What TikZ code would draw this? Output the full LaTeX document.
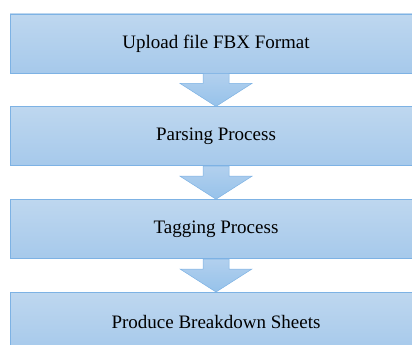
\documentclass[tikz,border=0pt]{standalone}
\usepackage{fontspec}
\setmainfont{Liberation Serif}
\usetikzlibrary{positioning,calc}

\definecolor{boxtop}{RGB}{190,215,239}
\definecolor{boxbot}{RGB}{166,201,235}
\definecolor{boxline}{RGB}{125,178,228}
\definecolor{arrtop}{RGB}{178,208,238}
\definecolor{arrbot}{RGB}{150,194,234}

\begin{document}
\begin{tikzpicture}[node distance=33pt,
    stage/.style={rectangle,draw=boxline,line width=0.8pt,top color=boxtop,
      bottom color=boxbot,minimum width=412pt,minimum height=59pt,
      inner sep=0pt,font=\fontsize{19}{23}\selectfont},
    flow/.style={draw=boxline,line width=0.5pt,top color=arrtop,bottom color=arrbot}]

  \useasboundingbox (0,0) rectangle (412pt,-345pt);

  \node[stage] (upload) at (216pt,-43.5pt) {Upload file FBX Format};
  \node[stage] (parse)  [below=of upload]  {Parsing Process};
  \node[stage] (tag)    [below=of parse]   {Tagging Process};
  \node[stage] (sheets) [below=of tag]     {Produce Breakdown Sheets};

  % block arrows between stages
  \foreach \a/\b in {upload/parse,parse/tag,tag/sheets}
    \path[flow] ($(\a.south)+(-13pt,0)$) -- ($(\a.south)+(13pt,0)$)
      -- ($(\a.south)+(13pt,-10pt)$) -- ($(\a.south)+(36pt,-10pt)$)
      -- (\b.north) -- ($(\a.south)+(-36pt,-10pt)$)
      -- ($(\a.south)+(-13pt,-10pt)$) -- cycle;
\end{tikzpicture}
\end{document}
